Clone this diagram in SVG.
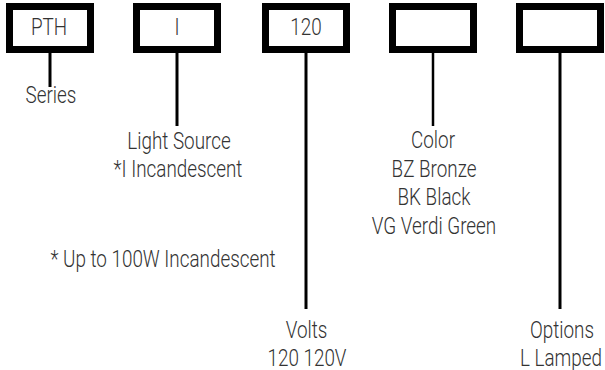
<svg xmlns="http://www.w3.org/2000/svg" width="605" height="370" viewBox="0 0 605 370">
<style>
.box{fill:#fff;stroke:#000;stroke-width:7}
.t{font-family:Roboto,"Liberation Sans",sans-serif;font-weight:300;font-size:23px;fill:#333;text-anchor:middle}
.c{stroke:#000;stroke-width:3;fill:none}
</style>
<rect width="605" height="370" fill="#fff"/>
<g id="connectors">
<line class="c" x1="50" y1="53" x2="50" y2="87"/>
<line class="c" x1="177" y1="53" x2="177" y2="126"/>
<line class="c" x1="306" y1="53" x2="306" y2="309"/>
<line class="c" x1="433" y1="53" x2="433" y2="126" style="stroke-width:2.5"/>
<line class="c" x1="560" y1="53" x2="560" y2="309"/>
</g>
<g id="series">
<rect class="box" x="9.5" y="6.5" width="81" height="43"/>
<text class="t" transform="translate(49 35) scale(0.82 1)">PTH</text>
<text class="t" transform="translate(51 103) scale(0.82 1)">Series</text>
</g>
<g id="light-source">
<rect class="box" x="136.5" y="6.5" width="81" height="43"/>
<text class="t" opacity="0.99" transform="translate(177 35) scale(0.82 1)">I</text>
<text class="t" transform="translate(179 149) scale(0.82 1)">Light Source</text>
<text class="t" transform="translate(178 177) scale(0.82 1)">*I Incandescent</text>
</g>
<g id="note">
<text class="t" transform="translate(163 267) scale(0.82 1)">* Up to 100W Incandescent</text>
</g>
<g id="volts">
<rect class="box" x="265.5" y="6.5" width="81" height="43"/>
<text class="t" transform="translate(306 35) scale(0.82 1)">120</text>
<text class="t" transform="translate(306.5 338) scale(0.82 1)">Volts</text>
<text class="t" transform="translate(307 366) scale(0.82 1)">120 120V</text>
</g>
<g id="color">
<rect class="box" x="392.5" y="6.5" width="81" height="43"/>
<text class="t" transform="translate(433 148) scale(0.82 1)">Color</text>
<text class="t" transform="translate(434 177) scale(0.82 1)">BZ Bronze</text>
<text class="t" transform="translate(434 205) scale(0.82 1)">BK Black</text>
<text class="t" transform="translate(434 234) scale(0.82 1)">VG Verdi Green</text>
</g>
<g id="options">
<rect class="box" x="519.5" y="6.5" width="81" height="43"/>
<text class="t" transform="translate(562 338) scale(0.82 1)">Options</text>
<text class="t" transform="translate(561 366) scale(0.82 1)">L Lamped</text>
</g>
</svg>
